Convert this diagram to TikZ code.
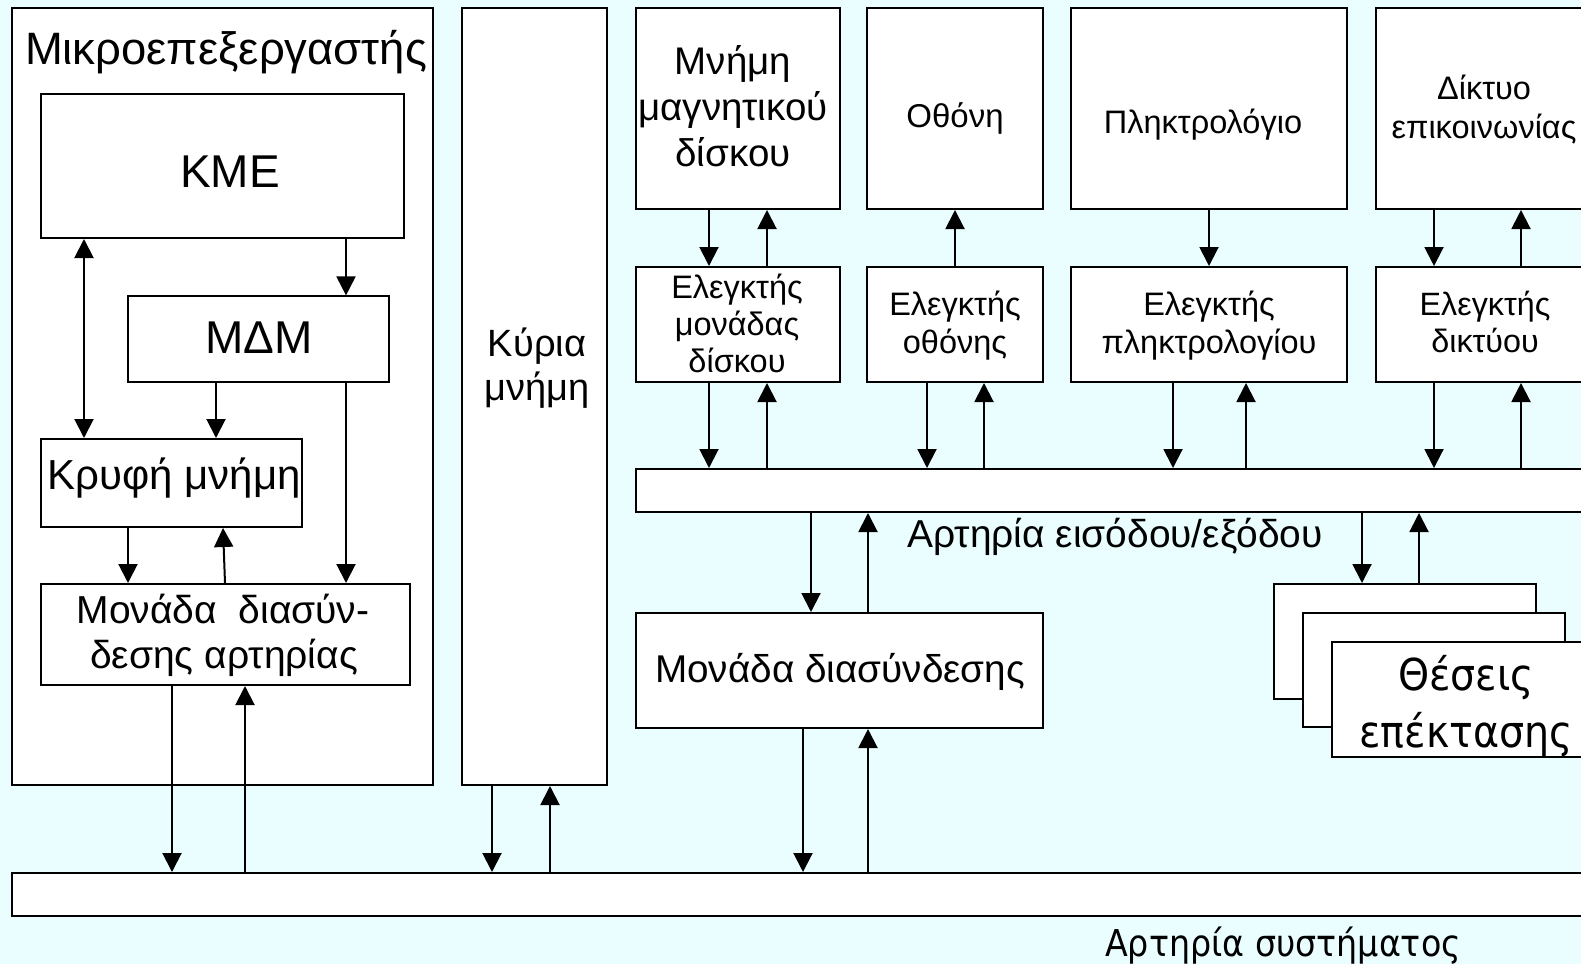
\documentclass[tikz,border=0pt]{standalone}
\usepackage{fontspec}
\setmainfont{Liberation Sans}
\newfontfamily\tahfont[FakeStretch=0.9]{DejaVu Sans}
\usetikzlibrary{arrows.meta,fit}
\definecolor{bg}{RGB}{234,254,255}
\newcommand{\fsz}[1]{\fontsize{#1}{#1}\selectfont}
\tikzset{
  box/.style={draw=black, fill=white, line width=2pt, inner sep=0pt},
  thinbox/.style={box, line width=1.2pt},
  arr/.style={line width=2pt, -{Triangle[length=19pt,width=19pt]}},
  dbl/.style={line width=2pt, {Triangle[length=19pt,width=19pt]}-{Triangle[length=19pt,width=19pt]}},
  lbl/.style={anchor=base, inner sep=0pt},
}
\newcommand{\bx}[6][box]{\node[#1, fit={(#3,#4) (#5,#6)}] (#2) {};}
\newcommand{\tl}[5]{\node[lbl, font=#4] (#1) at (#2,#3) {#5};}
\begin{document}
\begin{tikzpicture}[x=1pt,y=-1pt]
\useasboundingbox (0,0) rectangle (1581,964);
\clip (0,0) rectangle (1581,964);
\fill[bg] (0,0) rectangle (1581,964);
% boxes
\bx{micro}{12}{8}{433}{785}
\bx{kme}{41}{94}{404}{238}
\bx[thinbox]{mdm}{128}{296}{389}{382}
\bx{cache}{41}{439}{302}{527}
\bx{biu}{41}{584}{410}{685}
\bx{kyria}{462}{8}{607}{785}
\bx{disk}{636}{8}{840}{209}
\bx{diskc}{636}{267}{840}{382}
\bx{scr}{867}{8}{1043}{209}
\bx{scrc}{867}{267}{1043}{382}
\bx{kbd}{1071}{8}{1347}{209}
\bx{kbdc}{1071}{267}{1347}{382}
\bx{net}{1376}{8}{1610}{209}
\bx{netc}{1376}{267}{1610}{382}
\bx{iobus}{636}{469}{1610}{512}
\bx{mon}{636}{613}{1043}{728}
\bx{expa}{1274}{584}{1536}{699}
\bx{expb}{1303}{613}{1565}{727}
\bx{expc}{1332}{642}{1610}{757}
\bx{sysbus}{12}{873}{1610}{916}
% texts
\tl{tmicro}{226}{64}{\fsz{45.4}}{Μικροεπεξεργαστής}
\tl{tkme}{230}{187}{\fsz{46}}{ΚΜΕ}
\tl{tmdm}{259}{353}{\fsz{46}}{ΜΔΜ}
\tl{tcache}{174}{489}{\fsz{42}}{Κρυφή μνήμη}
\tl{tbiua}{223}{623}{\fsz{39}}{Μονάδα\ \ διασύν-}
\tl{tbiub}{224}{668}{\fsz{39}}{δεσης αρτηρίας}
\tl{tkya}{537}{356}{\fsz{38}}{Κύρια}
\tl{tkyb}{537}{400}{\fsz{38}}{μνήμη}
\tl{tdka}{733}{74}{\fsz{38.5}}{Μνήμη}
\tl{tdkb}{733}{120}{\fsz{38.5}}{μαγνητικού}
\tl{tdkc}{733}{166}{\fsz{38.5}}{δίσκου}
\tl{tdca}{737}{298}{\fsz{32.5}}{Ελεγκτής}
\tl{tdcb}{737}{335}{\fsz{32.5}}{μονάδας}
\tl{tdcc}{737}{372}{\fsz{32.5}}{δίσκου}
\tl{tscr}{955}{127}{\fsz{33}}{Οθόνη}
\tl{tsca}{955}{315}{\fsz{32.5}}{Ελεγκτής}
\tl{tscb}{955}{353}{\fsz{32.5}}{οθόνης}
\tl{tkbd}{1203}{133}{\fsz{32.5}}{Πληκτρολόγιο}
\tl{tkca}{1209}{315}{\fsz{32.5}}{Ελεγκτής}
\tl{tkcb}{1209}{353}{\fsz{32.5}}{πληκτρολογίου}
\tl{tneta}{1484}{99}{\fsz{32.5}}{Δίκτυο}
\tl{tnetb}{1484}{138}{\fsz{32.5}}{επικοινωνίας}
\tl{tnca}{1485}{315}{\fsz{32.3}}{Ελεγκτής}
\tl{tncb}{1485}{352}{\fsz{32.3}}{δικτύου}
\node[lbl, anchor=base west, font=\fsz{38.9}] (tio) at (907,547) {Αρτηρία εισόδου/εξόδου};
\tl{tmon}{840}{682}{\fsz{38.7}}{Μονάδα διασύνδεσης}
\tl{texpa}{1466}{690}{\tahfont\fsz{44}}{Θέσεις}
\tl{texpb}{1466}{747}{\tahfont\fsz{44}}{επέκτασης}
\node[lbl, anchor=base west, font=\tahfont\fsz{37}] (tsys) at (1105,956) {Αρτηρία συστήματος};
% arrows inside microprocessor
\draw[arr] (kme.south -| 346,0) -- (mdm.north -| 346,0);
\draw[dbl] (kme.south -| 84,0) -- (cache.north -| 84,0);
\draw[arr] (mdm.south -| 216,0) -- (cache.north -| 216,0);
\draw[arr] (mdm.south -| 346,0) -- (biu.north -| 346,0);
\draw[arr] (cache.south -| 128,0) -- (biu.north -| 128,0);
\draw[arr] (biu.north -| 225,0) -- (cache.south -| 223,0);
\draw[arr] (biu.south -| 172,0) -- (sysbus.north -| 172,0);
\draw[arr] (sysbus.north -| 245,0) -- (biu.south -| 245,0);
% main memory
\draw[arr] (kyria.south -| 492,0) -- (sysbus.north -| 492,0);
\draw[arr] (sysbus.north -| 550,0) -- (kyria.south -| 550,0);
% disk
\draw[arr] (disk.south -| 709,0) -- (diskc.north -| 709,0);
\draw[arr] (diskc.north -| 767,0) -- (disk.south -| 767,0);
\draw[arr] (diskc.south -| 709,0) -- (iobus.north -| 709,0);
\draw[arr] (iobus.north -| 767,0) -- (diskc.south -| 767,0);
% screen
\draw[arr] (scrc.north -| 955,0) -- (scr.south -| 955,0);
\draw[arr] (scrc.south -| 927,0) -- (iobus.north -| 927,0);
\draw[arr] (iobus.north -| 984,0) -- (scrc.south -| 984,0);
% keyboard
\draw[arr] (kbd.south -| 1209,0) -- (kbdc.north -| 1209,0);
\draw[arr] (kbdc.south -| 1173,0) -- (iobus.north -| 1173,0);
\draw[arr] (iobus.north -| 1246,0) -- (kbdc.south -| 1246,0);
% network
\draw[arr] (net.south -| 1434,0) -- (netc.north -| 1434,0);
\draw[arr] (netc.north -| 1521,0) -- (net.south -| 1521,0);
\draw[arr] (netc.south -| 1434,0) -- (iobus.north -| 1434,0);
\draw[arr] (iobus.north -| 1521,0) -- (netc.south -| 1521,0);
% interface unit
\draw[arr] (iobus.south -| 811,0) -- (mon.north -| 811,0);
\draw[arr] (mon.north -| 868,0) -- (iobus.south -| 868,0);
\draw[arr] (mon.south -| 803,0) -- (sysbus.north -| 803,0);
\draw[arr] (sysbus.north -| 868,0) -- (mon.south -| 868,0);
% expansion slots
\draw[arr] (iobus.south -| 1362,0) -- (expa.north -| 1362,0);
\draw[arr] (expa.north -| 1419,0) -- (iobus.south -| 1419,0);
\end{tikzpicture}
\end{document}
